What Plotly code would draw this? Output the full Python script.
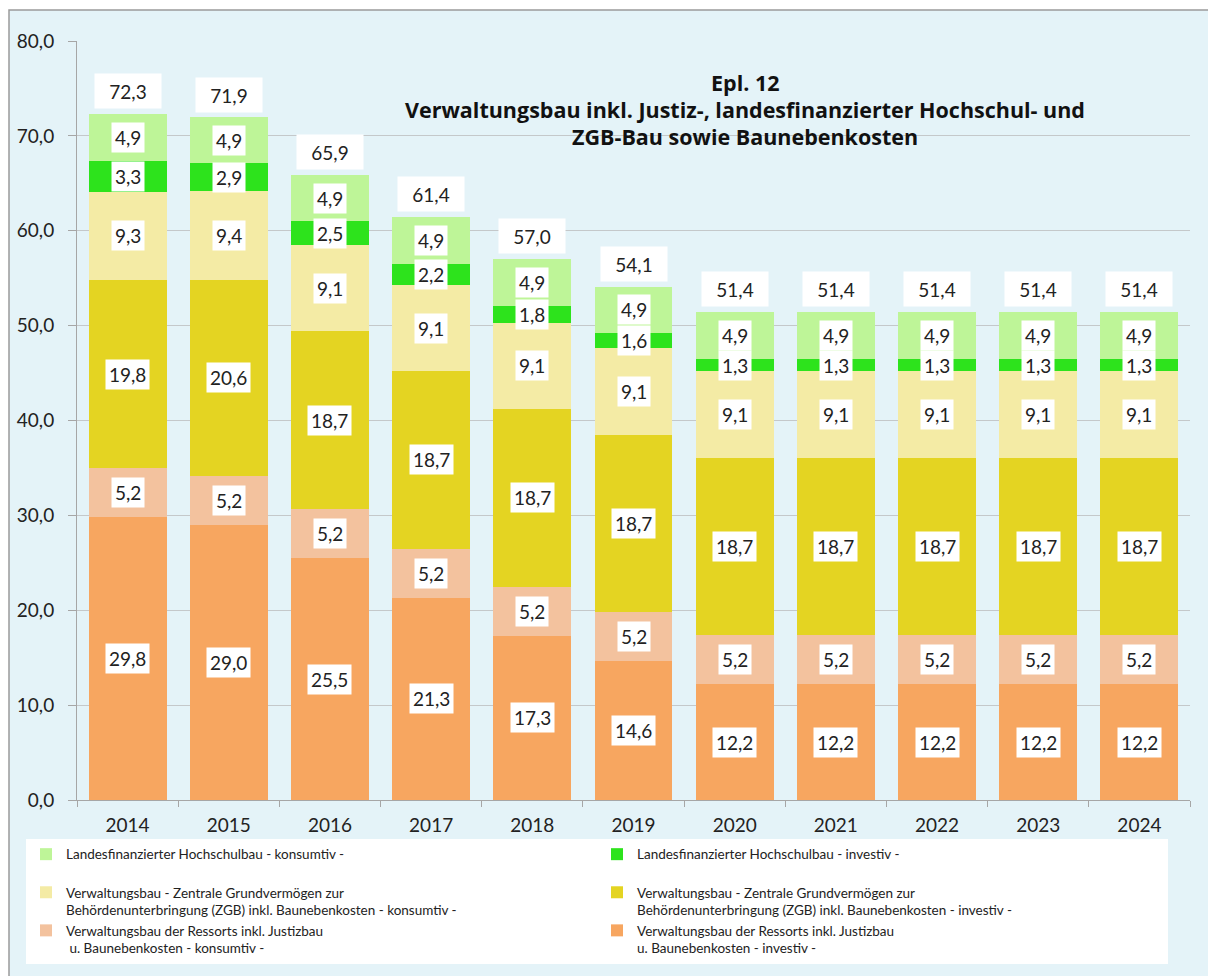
import plotly.graph_objects as go

years = ["2014", "2015", "2016", "2017", "2018", "2019", "2020", "2021", "2022", "2023", "2024"]

ressorts_investiv = [29.8, 29.0, 25.5, 21.3, 17.3, 14.6, 12.2, 12.2, 12.2, 12.2, 12.2]
ressorts_konsumtiv = [5.2, 5.2, 5.2, 5.2, 5.2, 5.2, 5.2, 5.2, 5.2, 5.2, 5.2]
zgb_investiv = [19.8, 20.6, 18.7, 18.7, 18.7, 18.7, 18.7, 18.7, 18.7, 18.7, 18.7]
zgb_konsumtiv = [9.3, 9.4, 9.1, 9.1, 9.1, 9.1, 9.1, 9.1, 9.1, 9.1, 9.1]
hochschul_investiv = [3.3, 2.9, 2.5, 2.2, 1.8, 1.6, 1.3, 1.3, 1.3, 1.3, 1.3]
hochschul_konsumtiv = [4.9, 4.9, 4.9, 4.9, 4.9, 4.9, 4.9, 4.9, 4.9, 4.9, 4.9]
totals = [72.3, 71.9, 65.9, 61.4, 57.0, 54.1, 51.4, 51.4, 51.4, 51.4, 51.4]

title_lines = [
    "Epl. 12",
    "Verwaltungsbau inkl. Justiz-, landesfinanzierter Hochschul- und",
    "ZGB-Bau sowie Baunebenkosten",
]

series = [
    ("Verwaltungsbau der Ressorts inkl. Justizbau<br>u. Baunebenkosten - investiv -", ressorts_investiv, "#F7A660", 6),
    ("Verwaltungsbau der Ressorts inkl. Justizbau<br> u. Baunebenkosten - konsumtiv -", ressorts_konsumtiv, "#F3C29E", 5),
    ("Verwaltungsbau - Zentrale Grundvermögen zur<br>Behördenunterbringung (ZGB) inkl. Baunebenkosten - investiv -", zgb_investiv, "#E4D422", 4),
    ("Verwaltungsbau - Zentrale Grundvermögen zur<br>Behördenunterbringung (ZGB) inkl. Baunebenkosten - konsumtiv -", zgb_konsumtiv, "#F4EBA5", 3),
    ("Landesfinanzierter Hochschulbau - investiv -<br> ", hochschul_investiv, "#2DE31C", 2),
    ("Landesfinanzierter Hochschulbau - konsumtiv -<br> ", hochschul_konsumtiv, "#BEF598", 1),
]

FONT = "Lato"
TXT = "#222222"

fig = go.Figure()
for name, vals, color, rank in series:
    fig.add_trace(go.Bar(
        x=years, y=vals, name=name, marker=dict(color=color, line=dict(width=0)),
        legendrank=rank, hoverinfo="skip",
    ))

annotations = []
base = [0.0] * len(years)
for name, vals, color, rank in series:
    for j, v in enumerate(vals):
        annotations.append(dict(
            x=j, y=base[j] + v / 2, xref="x", yref="y",
            text=f"{v:.1f}".replace(".", ","), showarrow=False,
            font=dict(family=FONT, size=19, color=TXT),
            bgcolor="white", borderpad=3,
        ))
        base[j] += v

for j, t in enumerate(totals):
    annotations.append(dict(
        x=j, y=t, xref="x", yref="y", yshift=23,
        text=f"{t:.1f}".replace(".", ","), showarrow=False,
        font=dict(family=FONT, size=19, color=TXT),
        bgcolor="white", width=64, height=32,
    ))

# pixel -> paper helpers (plot area: x 77..1190, y 41..802)
def px_x(p):
    return (p - 77) / 1113

def px_y(p):
    return (802 - p) / 761

for k, line in enumerate(title_lines):
    annotations.append(dict(
        x=px_x(745), y=px_y(83 + 27 * k), xref="paper", yref="paper",
        xanchor="center", yanchor="middle", text=f"<b>{line}</b>",
        showarrow=False, font=dict(family="Open Sans", size=21.5, color="#111111"),
    ))

shapes = [dict(
    type="rect", xref="paper", yref="paper", layer="below",
    x0=px_x(9), x1=px_x(1215), y0=px_y(985), y1=px_y(10),
    fillcolor="#E4F3F8", line=dict(color="#9A9A9A", width=1.5),
)]

fig.update_layout(
    width=1208, height=976,
    margin=dict(l=77, r=18, t=41, b=174),
    paper_bgcolor="white", plot_bgcolor="rgba(0,0,0,0)",
    barmode="stack", bargap=0.23,
    separators=",.",
    font=dict(family=FONT, color=TXT),
    annotations=annotations, shapes=shapes,
    showlegend=True,
    legend=dict(
        orientation="h", x=px_x(26), y=px_y(841), xanchor="left", yanchor="top",
        bgcolor="white", font=dict(family=FONT, size=13.5, color=TXT),
        entrywidth=526, entrywidthmode="pixels", valign="top",
        traceorder="normal",
    ),
    xaxis=dict(
        type="category", automargin=False, range=[-0.5, 10.5],
        showline=True, linecolor="#A6A6A6", linewidth=1,
        ticks="outside", tickson="boundaries", ticklen=6, tickcolor="#A6A6A6",
        ticklabelstandoff=8,
        tickfont=dict(family=FONT, size=19, color=TXT), showgrid=False,
    ),
    yaxis=dict(
        range=[0, 80], dtick=10, tickformat=".1f", automargin=False,
        showline=True, linecolor="#A6A6A6", linewidth=1,
        ticks="outside", ticklen=8, tickcolor="#A6A6A6",
        ticklabelstandoff=10,
        showgrid=True, gridcolor="#C4C8CA", gridwidth=1,
        tickfont=dict(family=FONT, size=19, color=TXT), zeroline=False,
    ),
)

fig.write_html("out.html", config={"displayModeBar": False},
               post_script="document.body.style.margin='0';")
